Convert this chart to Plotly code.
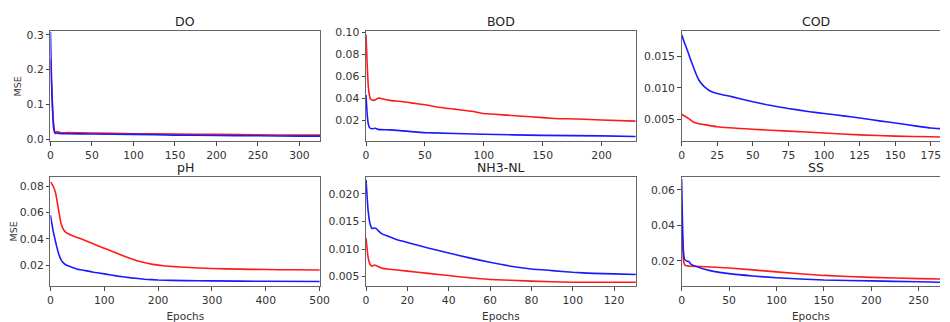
import plotly.graph_objects as go

# ---------------- data ----------------
titles = ["DO", "BOD", "COD", "pH", "NH3-NL", "SS"]

do_x_red = [0, 1, 2, 3, 4, 5, 6, 8, 10, 12, 20, 50, 100, 150, 200, 250, 300, 325]
do_y_red = [0.23, 0.17, 0.12, 0.07, 0.04, 0.023, 0.02, 0.022, 0.021, 0.019, 0.019, 0.018, 0.016, 0.015, 0.014, 0.013, 0.012, 0.012]
do_x_blue = [0, 1, 2, 3, 4, 5, 6, 8, 10, 20, 50, 100, 150, 200, 250, 300, 325]
do_y_blue = [0.31, 0.2, 0.12, 0.06, 0.03, 0.02, 0.017, 0.018, 0.017, 0.016, 0.015, 0.014, 0.012, 0.011, 0.010, 0.009, 0.009]

bod_x_red = [0, 1, 2, 3, 4, 6, 8, 10, 12, 15, 20, 30, 40, 50, 60, 75, 90, 100, 120, 140, 160, 180, 200, 229]
bod_y_red = [0.098, 0.07, 0.05, 0.042, 0.039, 0.038, 0.0385, 0.040, 0.040, 0.039, 0.038, 0.037, 0.0355, 0.034, 0.032, 0.030, 0.028, 0.026, 0.0245, 0.023, 0.0215, 0.021, 0.020, 0.019]
bod_x_blue = [0, 1, 2, 3, 5, 8, 10, 20, 50, 100, 150, 200, 229]
bod_y_blue = [0.043, 0.025, 0.016, 0.013, 0.012, 0.0125, 0.0115, 0.011, 0.0085, 0.007, 0.006, 0.0055, 0.005]

cod_x_blue = [0, 2, 4, 6, 8, 10, 12, 15, 18, 20, 25, 35, 50, 60, 75, 90, 100, 115, 125, 140, 150, 165, 175, 189]
cod_y_blue = [0.0185, 0.0172, 0.016, 0.0147, 0.0135, 0.0123, 0.0113, 0.0104, 0.0098, 0.0095, 0.0091, 0.0086, 0.0078, 0.0073, 0.0067, 0.0062, 0.0059, 0.0055, 0.0052, 0.0047, 0.0044, 0.0039, 0.0036, 0.0034]
cod_x_red = [0, 3, 5, 8, 10, 25, 50, 75, 100, 125, 150, 175, 189]
cod_y_red = [0.0058, 0.0054, 0.0051, 0.0046, 0.0044, 0.0038, 0.0034, 0.0031, 0.0028, 0.0025, 0.0023, 0.0022, 0.0021]

ph_x_red = [0, 5, 10, 15, 20, 25, 30, 40, 50, 60, 75, 90, 100, 115, 130, 150, 170, 190, 210, 230, 250, 300, 350, 400, 450, 500]
ph_y_red = [0.083, 0.080, 0.074, 0.062, 0.051, 0.0465, 0.0445, 0.0425, 0.041, 0.0395, 0.037, 0.0345, 0.033, 0.0305, 0.028, 0.025, 0.0225, 0.0207, 0.0197, 0.019, 0.0185, 0.0176, 0.0171, 0.0168, 0.0166, 0.0165]
ph_x_blue = [0, 5, 10, 15, 20, 25, 30, 40, 50, 65, 80, 100, 125, 150, 175, 200, 250, 300, 400, 500]
ph_y_blue = [0.058, 0.046, 0.037, 0.029, 0.024, 0.0215, 0.020, 0.0185, 0.017, 0.016, 0.0148, 0.0135, 0.0118, 0.0105, 0.0095, 0.0089, 0.0084, 0.0082, 0.0079, 0.0077]

nh3_x_blue = [0, 1, 2, 3, 4, 5, 6, 8, 10, 15, 20, 30, 40, 50, 60, 70, 80, 90, 100, 110, 120, 131]
nh3_y_blue = [0.0225, 0.017, 0.0145, 0.0137, 0.0138, 0.0137, 0.0133, 0.0127, 0.0124, 0.0117, 0.0112, 0.0102, 0.0093, 0.0084, 0.0076, 0.0069, 0.0064, 0.0061, 0.0058, 0.0056, 0.0055, 0.0054]
nh3_x_red = [0, 1, 2, 3, 4, 5, 6, 8, 10, 20, 30, 40, 50, 60, 80, 100, 131]
nh3_y_red = [0.012, 0.0085, 0.0072, 0.0069, 0.0071, 0.0070, 0.0068, 0.0065, 0.0064, 0.0060, 0.0056, 0.0052, 0.0048, 0.0045, 0.0042, 0.0040, 0.0040]

ss_x_blue = [0, 1, 2, 3, 5, 8, 10, 20, 30, 50, 75, 100, 150, 200, 250, 285]
ss_y_blue = [0.066, 0.04, 0.025, 0.021, 0.020, 0.0195, 0.018, 0.016, 0.0145, 0.0128, 0.0115, 0.0105, 0.0092, 0.0087, 0.0082, 0.0078]
ss_x_red = [0, 1, 2, 3, 5, 10, 20, 50, 100, 150, 200, 250, 285]
ss_y_red = [0.045, 0.03, 0.02, 0.018, 0.0172, 0.0170, 0.0168, 0.016, 0.0138, 0.0118, 0.0107, 0.0100, 0.0097]

series = [
    (do_x_red, do_y_red, do_x_blue, do_y_blue),
    (bod_x_red, bod_y_red, bod_x_blue, bod_y_blue),
    (cod_x_red, cod_y_red, cod_x_blue, cod_y_blue),
    (ph_x_red, ph_y_red, ph_x_blue, ph_y_blue),
    (nh3_x_red, nh3_y_red, nh3_x_blue, nh3_y_blue),
    (ss_x_red, ss_y_red, ss_x_blue, ss_y_blue),
]

x_ranges = [[0, 325], [0, 229], [0, 181.4], [0, 501], [0, 130.5], [0, 272.5]]
y_ranges = [[-0.0054, 0.310], [0.0007, 0.1011], [0.0015, 0.0190],
            [0.0043, 0.0871], [0.0033, 0.0231], [0.0058, 0.0675]]
x_dticks = [50, 50, 25, 100, 20, 50]
y_dticks = [0.1, 0.02, 0.005, 0.02, 0.005, 0.02]
y_formats = [".1f", ".2f", ".3f", ".2f", ".3f", ".2f"]

# ---------------- layout ----------------
# The page body has an 8px margin, so the figure is shifted by (8, 8) on screen.
OFF = 8
W, H = 950 - OFF, 322 - OFF
col_px = [(48, 321.5), (368, 641.5), (688, 950)]
row_px = [(27.5, 143.5), (181, 296.7)]

fig = go.Figure()
font_tick = dict(family="DejaVu Sans", size=10.8, color="#333333")
annotations = []

for i in range(6):
    r, c = divmod(i, 3)
    ax = "" if i == 0 else str(i + 1)
    xr, yr, xb, yb = series[i]
    fig.add_trace(go.Scatter(x=xr, y=yr, mode="lines", line=dict(color="#ff1a1a", width=1.6, shape="spline", smoothing=0.4),
                             xaxis="x" + ax, yaxis="y" + ax, showlegend=False))
    fig.add_trace(go.Scatter(x=xb, y=yb, mode="lines", line=dict(color="#1a1aff", width=1.6, shape="spline", smoothing=0.4),
                             xaxis="x" + ax, yaxis="y" + ax, showlegend=False))
    x0, x1 = col_px[c]
    y0, y1 = row_px[r]
    x0, x1, y0, y1 = x0 - OFF, x1 - OFF, y0 - OFF, y1 - OFF
    xdom = [x0 / W, min(x1 / W, 1.0)]
    ydom = [1 - y1 / H, 1 - y0 / H]
    fig.layout["xaxis" + ax] = dict(
        domain=xdom, range=x_ranges[i], anchor="y" + ax, dtick=x_dticks[i], tick0=0,
        showgrid=False, zeroline=False, showline=True, linecolor="#666666", linewidth=1,
        mirror=True, ticks="outside", ticklen=3.5, tickcolor="#444444", tickfont=font_tick,
        title=dict(text="Epochs" if r == 1 else "", font=dict(family="DejaVu Sans", size=10.5, color="#333333"), standoff=8),
    )
    fig.layout["yaxis" + ax] = dict(
        domain=ydom, range=y_ranges[i], anchor="x" + ax, dtick=y_dticks[i], tick0=0,
        tickformat=y_formats[i],
        showgrid=False, zeroline=False, showline=True, linecolor="#666666", linewidth=1,
        mirror=(c != 2), ticks="outside", ticklen=3.5, tickcolor="#444444", tickfont=font_tick,
        title=dict(text="MSE" if c == 0 else "", font=dict(family="DejaVu Sans", size=9.5, color="#333333"), standoff=3),
    )
    annotations.append(dict(text=titles[i], x=(x0 + x0 + 273.5) / 2 / W, y=1 - (y0 - 10) / H,
                            xref="paper", yref="paper", showarrow=False,
                            font=dict(family="DejaVu Sans", size=12.5, color="#222222"),
                            xanchor="center", yanchor="middle"))

fig.update_layout(
    width=W, height=H, margin=dict(l=0, r=0, t=0, b=0),
    paper_bgcolor="white", plot_bgcolor="white", annotations=annotations,
)

fig.write_html("out.html")
